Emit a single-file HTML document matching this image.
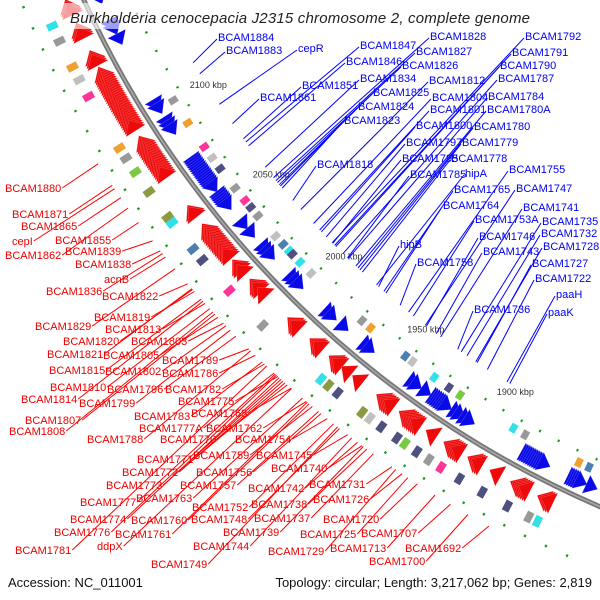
<!DOCTYPE html>
<html><head><meta charset="utf-8">
<style>
html,body{margin:0;padding:0;background:#fff;}
svg{display:block;font-family:"Liberation Sans",sans-serif;}
</style></head>
<body>
<svg id="map" width="600" height="600" viewBox="0 0 600 600" xmlns="http://www.w3.org/2000/svg">
<g id="features"></g>
<g id="leaders"></g>
<g id="labels"></g>
<rect x="60" y="3" width="480" height="26" fill="#fff" opacity="0.6"/>
<text x="70" y="23" font-size="15" font-style="italic" fill="#222" textLength="460">Burkholderia cenocepacia J2315 chromosome 2, complete genome</text>
<text x="8" y="587" font-size="13" fill="#111">Accession: NC_011001</text>
<text x="592" y="587" font-size="13" fill="#111" text-anchor="end">Topology: circular; Length: 3,217,062 bp; Genes: 2,819</text>
</svg>
<script>
// ---- data ----
const blueStarts=[2154,2151,2138,2136,2131,2098,2096,2089,2087,2085,2068,2067,2066,2065,2064,2063,2062,2061,2060,2059,2058,2057,2056,2055,2054,2049,2048,2047,2046,2045,2044,2033,2028,2019,2017,2015,2001,1999,1997,1979,1977,1970,1957,1955,1931,1929,1924,1919,1918,1917,1916,1915,1914,1913,1908,1906,1903,1901,1872,1871,1870,1869,1868,1867,1866,1865,1864,1863,1849,1848,1847,1846,1845,1840];
const redStarts=[2154,2153,2152,2143,2142,2141,2130,2129,2128,2122,2121,2120,2119,2118,2117,2116,2115,2114,2113,2112,2111,2110,2109,2108,2107,2106,2105,2104,2103,2102,2101,2100,2099,2098,2097,2096,2088,2087,2086,2085,2084,2083,2082,2081,2080,2079,2078,2077,2076,2075,2074,2073,2072,2052,2051,2042,2041,2040,2039,2038,2037,2036,2035,2034,2033,2032,2031,2030,2029,2028,2022,2021,2019,2011,2010,2009,2006,1988,1987,1986,1975,1974,1973,1964,1963,1962,1957,1951,1938,1937,1936,1935,1934,1926,1925,1924,1923,1922,1921,1920,1912,1903,1902,1901,1900,1899,1891,1890,1889,1880,1870,1869,1868,1867,1866,1857,1856,1855];
const cogColors=["#999999","#33e0e8","#f0a030","#ff3399","#505080","#4a7fb0","#8a9a40","#c0c0c0","#7ac943"];
const cogInKbp=[2097,2085,2072,2066,2060,2049,2042,2038,2033,2021,2016,2012,2010,2005,1998,1967,1962,1942,1938,1926,1918,1912,1884,1878,1851,1846];
const cogInColor=[0,2,3,7,4,0,3,4,0,7,5,1,4,1,7,0,2,5,7,1,4,8,1,0,2,5];
const cogOutKbp=[2150,2143,2131,2125,2117,2092,2087,2080,2070,2057,2054,2040,2034,2017,1997,1964,1960,1955,1942,1938,1932,1924,1920,1914,1908,1902,1893,1882,1870,1860,1856];
const cogOutColor=[1,0,2,7,3,2,0,8,6,6,1,5,4,3,0,1,6,4,6,7,4,4,8,4,0,3,4,4,4,0,1];
const tickKbp=[2100,2050,2000,1950,1900];
const blueNames=["BCAM1884","BCAM1883","cepR","BCAM1847","BCAM1846","BCAM1851","BCAM1834","BCAM1861","BCAM1825","BCAM1824","BCAM1823","BCAM1828","BCAM1827","BCAM1826","BCAM1812","BCAM1804","BCAM1801","BCAM1800","BCAM1797","BCAM1795","BCAM1785","BCAM1818","BCAM1792","BCAM1791","BCAM1790","BCAM1787","BCAM1784","BCAM1780A","BCAM1780","BCAM1779","BCAM1778","hipA","BCAM1765","BCAM1755","BCAM1747","BCAM1764","BCAM1741","BCAM1753A","BCAM1735","BCAM1732","BCAM1746","BCAM1728","hipB","BCAM1743","BCAM1758","BCAM1727","BCAM1722","paaH","BCAM1736","paaK"];
const blueKbp=[2099,2097,2085,2052,2051,2057,2036,2070,2025,2024,2022,2029,2027,2026,2009,1999,1995,1994,1990,1987,1975,2016,1984,1982,1981,1977,1974,1969,1968,1967,1966,1964,1950,1937,1927,1949,1920,1935,1912,1909,1926,1904,1958,1922,1941,1902,1896,1894,1914,1892];
const redNames=["BCAM1880","BCAM1871","BCAM1865","cepI","BCAM1855","BCAM1862","BCAM1839","BCAM1838","acnB","BCAM1836","BCAM1822","BCAM1819","BCAM1829","BCAM1813","BCAM1820","BCAM1803","BCAM1821","BCAM1805","BCAM1789","BCAM1815","BCAM1802","BCAM1786","BCAM1810","BCAM1796","BCAM1782","BCAM1814","BCAM1799","BCAM1775","BCAM1783","BCAM1768","BCAM1807","BCAM1808","BCAM1777A","BCAM1762","BCAM1788","BCAM1770","BCAM1754","BCAM1771","BCAM1759","BCAM1745","BCAM1772","BCAM1756","BCAM1740","BCAM1773","BCAM1757","BCAM1742","BCAM1731","BCAM1763","BCAM1738","BCAM1726","BCAM1777","BCAM1752","BCAM1774","BCAM1760","BCAM1748","BCAM1737","BCAM1720","BCAM1776","BCAM1761","BCAM1739","BCAM1725","BCAM1707","BCAM1781","ddpX","BCAM1744","BCAM1729","BCAM1713","BCAM1692","BCAM1749","BCAM1700"];
const redKbp=[2094,2082,2075,2078,2062,2071,2042,2041,2040,2039,2021,2017,2030,2010,2019,1997,2020,2000,1980,2012,1996,1976,2006,1989,1971,2011,1992,1962,1972,1954,2002,2004,1965,1946,1979,1956,1936,1957,1942,1925,1959,1939,1919,1960,1940,1921,1907,1947,1916,1901,1965,1934,1961,1944,1929,1915,1894,1964,1945,1917,1900,1877,1970,1950,1924,1905,1885,1859,1930,1869];
// ---- layout (label anchor positions, not data) ----
const blueLayoutX=[218,226,298,360,346,302,360,260,373,358,344,430,416,402,429,432,430,416,406,402,410,317,525,512,500,498,488,487,474,462,451,465,454,509,516,443,523,475,542,541,479,543,400,483,417,532,535,556,474,548];
const blueLayoutY=[41,54,52,49,65,89,82,101,96,110,124,40,55,69,84,101,113,129,146,162,178,168,40,56,69,82,100,113,130,146,162,177,193,173,192,209,211,223,225,237,240,250,248,255,266,267,282,298,313,316];
const redLayoutX=[5,12,21,12,55,5,65,75,104,46,102,94,35,105,63,131,47,103,162,49,105,162,50,107,165,21,79,178,134,191,25,9,139,206,87,160,235,137,193,256,122,196,271,106,180,248,309,136,251,313,80,192,70,131,191,254,323,54,115,223,300,361,15,97,193,268,330,405,151,369];
const redLayoutY=[192,218,230,245,244,259,255,268,283,295,300,321,330,333,345,345,358,359,364,374,375,377,391,393,393,403,407,405,420,417,424,435,432,432,443,443,443,463,459,459,476,476,472,489,489,492,488,502,508,503,506,511,523,524,523,522,523,536,538,536,538,537,554,550,550,555,552,552,568,565];

// ---- geometry ----
const CX=998, CY=-415, R=1004, DEG=0.132;
function angDeg(k){return 135+(k-2000)*DEG;}
function ang(k){return angDeg(k)*Math.PI/180;}
function pt(k,r){const a=ang(k);return [CX+r*Math.cos(a),CY+r*Math.sin(a)];}
function ptA(aDeg,r){const a=aDeg*Math.PI/180;return [CX+r*Math.cos(a),CY+r*Math.sin(a)];}
const NS="http://www.w3.org/2000/svg";
const feat=document.getElementById('features');
const lead=document.getElementById('leaders');
const labs=document.getElementById('labels');
function mk(tag,attrs,parent){const e=document.createElementNS(NS,tag);for(const k in attrs)e.setAttribute(k,attrs[k]);parent.appendChild(e);return e;}
function P(a){return a[0].toFixed(1)+','+a[1].toFixed(1);}

// green dot rings
for(let k=1836;k<=2160;k+=9.5){
  const a=pt(k,R-42),b=pt(k+0.9,R-42);
  const d=mk('line',{x1:a[0],y1:a[1],x2:b[0],y2:b[1],stroke:'#1a9a1a','stroke-width':2.5},feat);
  
  
  const c=pt(k+4,R+58),e2=pt(k+4.9,R+58);
  const d2=mk('line',{x1:c[0],y1:c[1],x2:e2[0],y2:e2[1],stroke:'#1a9a1a','stroke-width':2.5},feat);
  
  
}
// COG boxes
function cog(k,c,r1,r2,name){
  const a=pt(k,r1),b=pt(k+3,r1),cc=pt(k+3,r2),d=pt(k,r2);
  const p=mk('polygon',{points:[P(a),P(b),P(cc),P(d)].join(' '),fill:cogColors[c]},feat);
  
  
}
cogInKbp.forEach((k,i)=>cog(k,cogInColor[i],R-27,R-36,'inner-cog-box'));
cogOutKbp.forEach((k,i)=>cog(k,cogOutColor[i],R+34,R+45,'outer-cog-box'));
// genes
function gene(s,dir,r1,r2,fill,name){
  const w=5.5;
  let base,tip;
  if(dir<0){base=s+w;tip=s;}else{base=s;tip=s+w;}
  const a=pt(base,r1),b=pt(base,r2),t=pt(tip,(r1+r2)/2);
  const p=mk('polygon',{points:[P(a),P(b),P(t)].join(' '),fill:fill,stroke:'#fff','stroke-width':0.3,'stroke-opacity':0.5},feat);
  
  
}
blueStarts.forEach(s=>gene(s,-1,R-5,R-25,'#0a0ae8','forward-gene'));
redStarts.forEach(s=>gene(s,1,R+5,R+28,'#ee0a0a','reverse-gene'));
// backbone arc
(function(){
  const a=pt(2175,R),b=pt(1820,R);
  const d='M'+P(a)+' A'+R+','+R+' 0 0 0 '+P(b);
  const p1=mk('path',{d:d,fill:'none',stroke:'#777','stroke-width':5},feat);
  
  
  const p2=mk('path',{d:d,fill:'none',stroke:'#aaa','stroke-width':1.5},feat);
  
  
})();
// ticks
tickKbp.forEach(k=>{
  const a=pt(k,R-53);
  const t=mk('text',{x:a[0].toFixed(1),y:(a[1]+2).toFixed(1),'font-size':9,fill:'#333'},feat);
  t.textContent=k+' kbp';
  
  
});
// leader endpoint: mostly radial from label, nudged toward the gene position
function leaderEnd(x,y,kbp,r){
  const la=Math.atan2(y-CY,x-CX)*180/Math.PI;
  const a=0.75*la+0.25*angDeg(kbp);
  return ptA(a,r);
}
// blue labels
blueNames.forEach((n,i)=>{
  const x=blueLayoutX[i],y=blueLayoutY[i];
  const t=mk('text',{x:x,y:y,'font-size':11,fill:'#0000ee'},labs);
  t.textContent=n;
  
  
  const e=leaderEnd(x-1,y,blueKbp[i],R-68);
  const l=mk('line',{x1:x-1,y1:y-2,x2:e[0].toFixed(1),y2:e[1].toFixed(1),stroke:'#0000ff','stroke-width':1},lead);
  
  
});
// red labels
redNames.forEach((n,i)=>{
  const x=redLayoutX[i],y=redLayoutY[i];
  const t=mk('text',{x:x,y:y,'font-size':11,fill:'#ee0000'},labs);
  t.textContent=n;
  
  
  const w=t.getComputedTextLength?t.getComputedTextLength():n.length*6.5;
  const e=leaderEnd(x+w+1,y-4,redKbp[i],R+66);
  const l=mk('line',{x1:x+w+1,y1:y-4,x2:e[0].toFixed(1),y2:e[1].toFixed(1),stroke:'#ff0000','stroke-width':1},lead);
  
  
});
</script>
</body></html>
